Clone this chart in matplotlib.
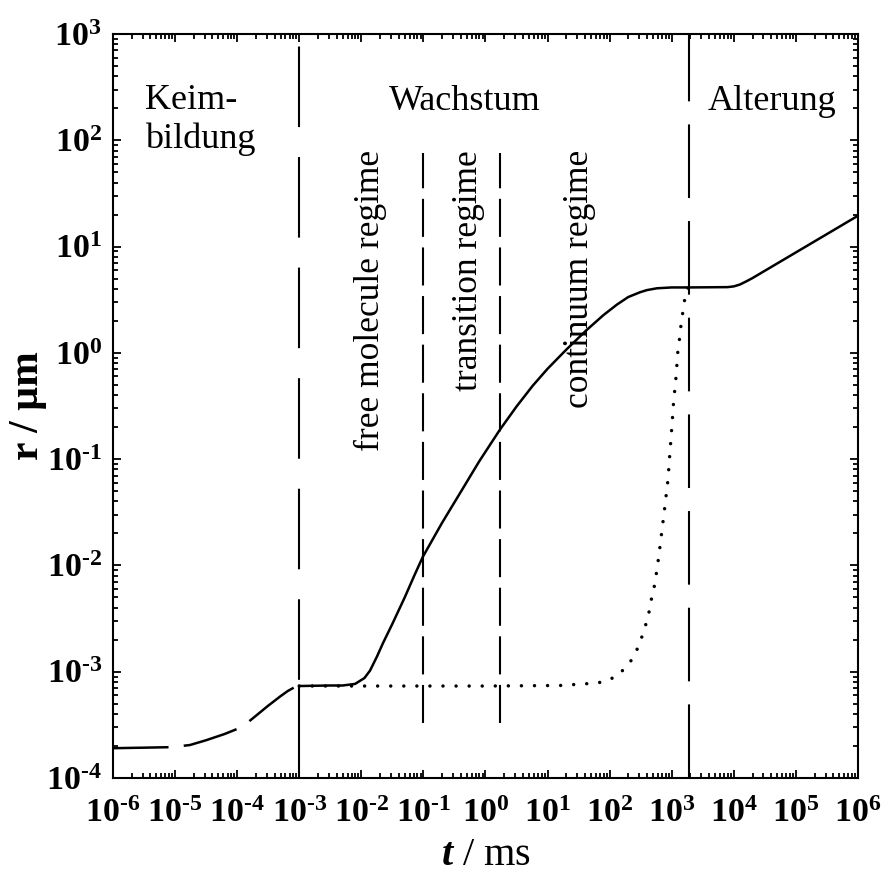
import numpy as np
import matplotlib
matplotlib.use('Agg')
import matplotlib.pyplot as plt
from matplotlib.ticker import LogLocator, NullFormatter

plt.rcParams['font.family'] = ['Liberation Serif', 'DejaVu Serif']
plt.rcParams['mathtext.fontset'] = 'custom'
plt.rcParams['mathtext.rm'] = 'Liberation Serif:bold'
plt.rcParams['mathtext.bf'] = 'Liberation Serif:bold'
plt.rcParams['mathtext.it'] = 'Liberation Serif:bold:italic'
plt.rcParams['lines.scale_dashes'] = False

# values, stored as log10 (t in ms, r in um)
# nucleation (Keimbildung), drawn dashed
lt_nucl = [-6.0, -5.5, -5.05, -4.76, -4.5, -4.2, -3.92, -3.75, -3.5, -3.3, -3.18, -3.07, -3.0]
lr_nucl = [-3.72, -3.715, -3.71, -3.69, -3.645, -3.586, -3.52, -3.44, -3.32, -3.23, -3.18, -3.145, -3.135]

# growth + ageing, solid
lt_grow = [-3.0, -2.5, -2.3, -2.1, -1.95, -1.86, -1.75, -1.65, -1.5, -1.3, -1.15, -1.01,
           -0.7, -0.41, -0.1, 0.23, 0.5, 0.76, 1.0, 1.31, 1.63, 1.9, 2.12, 2.3, 2.49, 2.6, 2.76,
           3.0, 3.26, 3.9, 4.0, 4.1, 4.2, 4.3, 6.0]
lr_grow = [-3.135, -3.13, -3.13, -3.115, -3.06, -2.99, -2.86, -2.73, -2.55, -2.30, -2.10, -1.92,
           -1.60, -1.32, -1.02, -0.725, -0.505, -0.31, -0.15, 0.035, 0.215, 0.355, 0.455, 0.525, 0.57,
           0.59, 0.607, 0.615, 0.615, 0.618, 0.625, 0.643, 0.672, 0.703, 1.29]

# delayed growth, dotted
lt_dot = [-3.0, 0.0, 1.2, 1.81, 1.97, 2.12, 2.24, 2.34, 2.42, 2.49, 2.55, 2.60, 2.65, 2.68, 2.73,
          2.76, 2.79, 2.84, 2.89, 2.94, 2.97, 3.00, 3.03, 3.07, 3.10, 3.13, 3.15, 3.18, 3.21, 3.26]
lr_dot = [-3.135, -3.135, -3.13, -3.106, -3.08, -3.04, -2.97, -2.90, -2.82, -2.72, -2.62, -2.52, -2.40,
          -2.29, -2.17, -2.04, -1.92, -1.68, -1.44, -1.19, -0.94, -0.71, -0.46, -0.22, 0.03, 0.15,
          0.27, 0.39, 0.51, 0.61]

nucl_end = 1e-3                       # Keimbildung | Wachstum
age_start = 1.9e3                     # Wachstum | Alterung
regime_bounds = [0.1, 1.7]            # free molecule | transition | continuum
regime_span = [10**-3.483, 10**1.88]

x_exp = [-6, -5, -4, -3, -2, -1, 0, 1, 2, 3, 4, 5, 6]
y_exp = [-4, -3, -2, -1, 0, 1, 2, 3]

fig = plt.figure(figsize=(8.82, 8.75), dpi=100)
ax = fig.add_axes([0.1281, 0.1109, 0.8447, 0.8503])
ax.set_xscale('log')
ax.set_yscale('log')

ax.plot(10**np.array(lt_nucl), 10**np.array(lr_nucl), color='k', lw=1.8, dashes=(40, 11))
ax.plot(10**np.array(lt_grow), 10**np.array(lr_grow), color='k', lw=1.8)
ax.plot(10**np.array(lt_dot), 10**np.array(lr_dot), color='k', lw=2.5,
        dashes=(0.01, 9.4), dash_capstyle='round')

# phase boundaries
ax.plot([nucl_end, nucl_end], [1e3, 10**lr_grow[0]], color='k', lw=1.5,
        linestyle=(70.6, (58, 21.6)))
ax.plot([nucl_end, nucl_end], [1e-4, 10**lr_grow[0]], color='k', lw=1.5)
ax.plot([age_start, age_start], [1e-4, 1e3], color='k', lw=1.5, dashes=(53, 16.6))
for xv in regime_bounds:
    ax.plot([xv, xv], regime_span, color='k', lw=1.5, dashes=(27.4, 7.6))

ax.set_xlim(1e-6, 1e6)
ax.set_ylim(1e-4, 1e3)


def exp_label(e):
    # hyphen-like minus as in the original
    return r'$10^{\text{%s}}$' % ('-%d' % -e if e < 0 else '%d' % e)


ax.set_xticks([10.0**e for e in x_exp])
ax.set_xticklabels([exp_label(e) for e in x_exp])
ax.set_yticks([10.0**e for e in y_exp])
ax.set_yticklabels([exp_label(e) for e in y_exp])
for axis in (ax.xaxis, ax.yaxis):
    axis.set_minor_locator(LogLocator(base=10, subs=np.arange(2, 10), numticks=100))
    axis.set_minor_formatter(NullFormatter())

ax.tick_params(which='both', direction='in', top=True, right=True, width=1.3)
ax.tick_params(which='major', length=6, labelsize=24.5)
ax.tick_params(axis='x', which='major', pad=15)
ax.tick_params(axis='y', which='major', pad=8)
ax.tick_params(which='minor', length=3.5)
for sp in ax.spines.values():
    sp.set_linewidth(1.5)

ax.set_xlabel(r'$t$ / ms', fontsize=29)
ax.set_ylabel('r / µm', fontsize=30, fontweight='bold')
ax.xaxis.set_label_coords(0.5, -0.08)
ax.yaxis.set_label_coords(-0.088, 0.5)

# phase labels
ax.text(10**-5.485, 10**2.29, 'Keim-', fontsize=26, ha='left', va='baseline')
ax.text(10**-5.485, 10**1.925, 'bildung', fontsize=26, ha='left', va='baseline')
ax.text(10**-0.33, 10**2.28, 'Wachstum', fontsize=26, ha='center', va='baseline')
ax.text(10**4.61, 10**2.28, 'Alterung', fontsize=26, ha='center', va='baseline')

# regime labels
ax.text(10**-1.86, 10**1.91, 'free molecule regime', fontsize=25.5, rotation=90, ha='center', va='top')
ax.text(10**-0.27, 10**1.91, 'transition regime', fontsize=25.5, rotation=90, ha='center', va='top')
ax.text(10**1.52, 10**1.91, 'continuum regime', fontsize=25.5, rotation=90, ha='center', va='top')

fig.savefig('out.png', dpi=100)
